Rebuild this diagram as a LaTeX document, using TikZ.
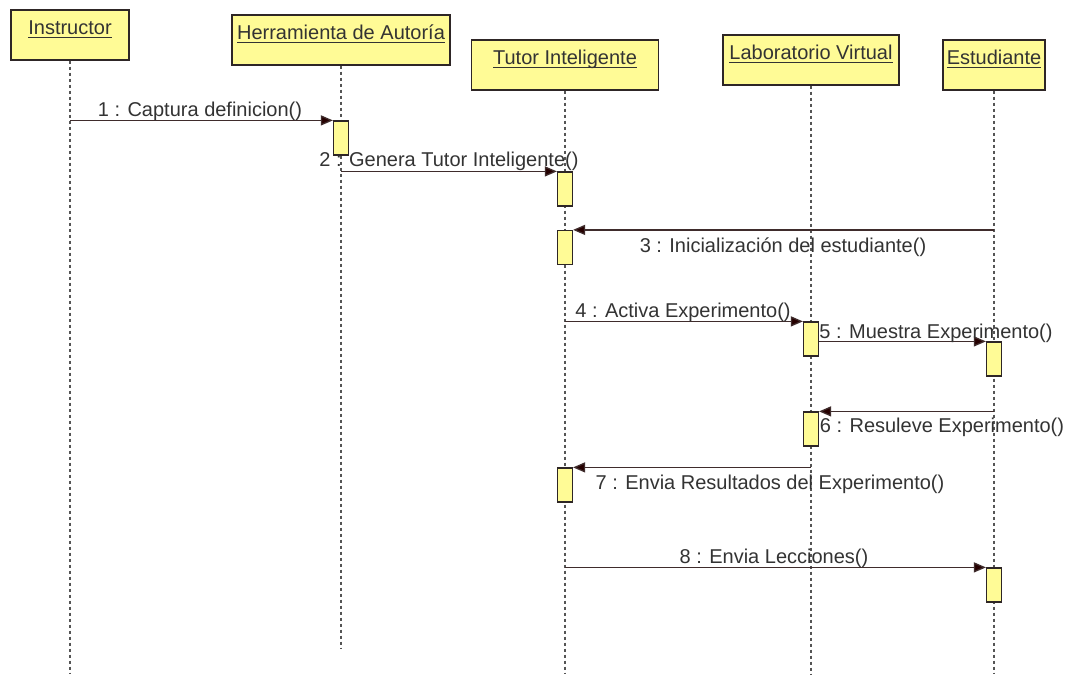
\documentclass[tikz,border=0pt]{standalone}
\usepackage{fontspec}
\setmainfont{Liberation Sans}
\usetikzlibrary{arrows.meta}
\definecolor{objfill}{HTML}{FFFB96}
\definecolor{edge}{HTML}{2E2626}
\definecolor{msgline}{HTML}{3F2C2C}
\definecolor{txt}{HTML}{333333}
\definecolor{life}{HTML}{555555}
% underline at a fixed depth below the baseline, independent of descenders
\newcommand\hdrline[1]{\setbox0\hbox{#1}\rlap{\rule[-2.6pt]{\wd0}{1pt}}\box0}

\begin{document}
\begin{tikzpicture}[x=1pt,y=-1pt,
  object/.style={draw=edge, fill=objfill, line width=1.2pt, inner sep=0pt,
    text height=25pt, text depth=25pt, font=\fontsize{20}{24}\selectfont, text=txt},
  act/.style={draw=edge, fill=objfill, line width=1.2pt, minimum width=15pt,
    minimum height=34pt, inner sep=0pt},
  lifeline/.style={draw=life, line width=1.2pt, dash pattern=on 3pt off 3pt},
  msg/.style={draw=msgline, line width=1.3pt,
    -{Triangle[length=12pt,width=10pt,fill=black!85!red]}},
  msglabel/.style={anchor=base, font=\fontsize{20}{24}\selectfont, text=txt, inner sep=0pt}]

\useasboundingbox (0,0) rectangle (1068,679);
\fill[white] (0,0) rectangle (1068,679);

% objects
\node[object, minimum width=118pt] (ins) at (70,35) {\hdrline{Instructor}};
\node[object, minimum width=218pt] (her) at (341,40) {\hdrline{Herramienta de Autoría}};
\node[object, minimum width=187pt] (tut) at (565,65) {\hdrline{Tutor Inteligente}};
\node[object, minimum width=176pt] (lab) at (811,60) {\hdrline{Laboratorio Virtual}};
\node[object, minimum width=102pt] (est) at (994,65) {\hdrline{Estudiante}};

% lifelines
\coordinate (insEnd) at (70,674);
\coordinate (herEnd) at (341,648);
\coordinate (tutEnd) at (565,674);
\coordinate (labEnd) at (811,674);
\coordinate (estEnd) at (994,674);
\draw[lifeline] (ins.south) -- (insEnd);
\draw[lifeline] (her.south) -- (herEnd);
\draw[lifeline] (tut.south) -- (tutEnd);
\draw[lifeline] (lab.south) -- (labEnd);
\draw[lifeline] (est.south) -- (estEnd);

% activations
\node[act] (h1) at (341,138) {};
\node[act] (t1) at (565,189) {};
\node[act] (t2) at (565,247.5) {};
\node[act] (l1) at (811,339) {};
\node[act] (e1) at (994,359) {};
\node[act] (l2) at (811,429) {};
\node[act] (t3) at (565,485) {};
\node[act] (e2) at (994,585) {};

% messages
\draw[msg] (ins.south |- h1.north) -- (h1.north west);
\draw[msg] (her.south |- t1.north) -- (t1.north west);
\draw[msg] (est.south |- t2.north) -- (t2.north east);
\draw[msg] (tut.south |- l1.north) -- (l1.north west);
\draw[msg] (l1.east |- e1.north) -- (e1.north west);
\draw[msg] (est.south |- l2.north) -- (l2.north east);
\draw[msg] (lab.south |- t3.north) -- (t3.north east);
\draw[msg] (tut.south |- e2.north) -- (e2.north west);

% message labels
\node[msglabel] (m1) at (200,117) {1 : Captura definicion()};
\node[msglabel] (m2) at (449,167) {2 : Genera Tutor Inteligente()};
\node[msglabel] (m3) at (783,252) {3 : Inicialización del estudiante()};
\node[msglabel] (m4) at (683,317) {4 : Activa Experimento()};
\node[msglabel] (m5) at (936,338) {5 : Muestra Experimento()};
\node[msglabel] (m6) at (942,432) {6 : Resuleve Experimento()};
\node[msglabel] (m7) at (770,489) {7 : Envia Resultados del Experimento()};
\node[msglabel] (m8) at (774,563) {8 : Envia Lecciones()};
\end{tikzpicture}
\end{document}
